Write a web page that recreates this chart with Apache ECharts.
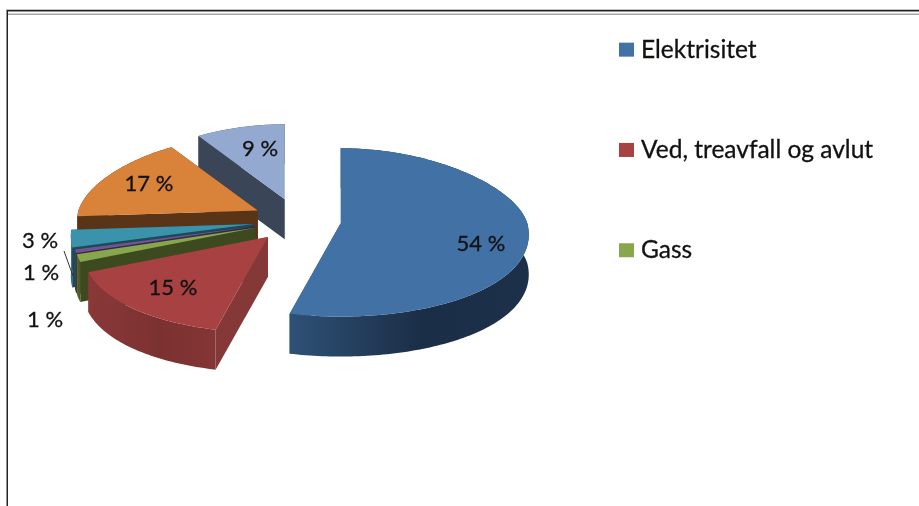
<!DOCTYPE html>
<html>
<head>
<meta charset="utf-8">
<style>html,body{margin:0;padding:0;background:#fff}#c{width:919px;height:506px}</style>
<script src="https://cdn.jsdelivr.net/npm/echarts@6/dist/echarts.min.js"></script>
</head>
<body>
<div id="c"></div>
<script>
// Data, clockwise from 12 o'clock. Only the first three names appear in the legend.
const sliceNames = ['Elektrisitet', 'Ved, treavfall og avlut', 'Gass', 'Slice 4', 'Slice 5', 'Slice 6', 'Slice 7'];
const sliceValues = [54, 15, 1.4, 0.6, 3, 17, 9];

// Styles
const topColors  = ['#4271a6', '#a84141', '#88a64c', '#6f5690', '#3a92ab', '#d8823a', '#93a9d0'];
const faceColors = ['#2b4a6e', '#853838', '#3d4a20', '#35294a', '#1c4a58', '#5a3417', '#3a4558'];
const rimStops   = [
  ['#2e5176', '#1b2e47', '#1c3049'], ['#8a3838', '#7c3131', '#843535'], ['#5c7030', '#4b5b27', '#4b5b27'],
  ['#4a3a60', '#4a3a60', '#4a3a60'], ['#2a7085', '#2a7085', '#2a7085'], ['#5a3417', '#5a3417', '#5a3417'],
  ['#3a4558', '#3a4558', '#3a4558']
];
// Label positions (text centres)
const labelXY = [[481, 244], [173, 288], [45, 320], [41, 273], [40, 241], [149, 184], [260, 149]];
// Radius adjustment per wedge
const radiusScale = [1, 1.025, 1, 1, 1.01, 1, 1];
// Order from back to front so nearer wedges cover farther ones
const paintOrder = [6, 5, 4, 3, 2, 1, 0];

// 3D projection settings
const CX = 297, CY = 220.5, R = 183, EXPLODE = 44, EXPLODE_Y = 0.5;
const RY_BACK = 0.41, RY_FRONT = 0.51, DEPTH = 40;
const total = sliceValues.reduce((a, b) => a + b, 0);

function wedge(i) {
  let before = 0;
  for (let k = 0; k < i; k++) before += sliceValues[k];
  const a0 = before / total * Math.PI * 2;
  const a1 = (before + sliceValues[i]) / total * Math.PI * 2;
  const m = (a0 + a1) / 2;
  const ax = CX + EXPLODE * Math.sin(m);
  const ay = CY - EXPLODE * EXPLODE_Y * Math.cos(m);
  return { a0, a1, ax, ay, r: R * radiusScale[i] };
}
function rimPoint(w, t) {
  const f = 1 - 0.13 * Math.cos(t) + 0.02 * Math.sin(t);
  const c = Math.cos(t);
  const ry = c > 0 ? RY_BACK : RY_FRONT;
  return [w.ax + w.r * f * Math.sin(t), w.ay - w.r * ry * c];
}
function arcPoints(w) {
  const n = Math.max(3, Math.ceil((w.a1 - w.a0) / 0.02));
  const pts = [];
  for (let k = 0; k <= n; k++) pts.push(rimPoint(w, w.a0 + (w.a1 - w.a0) * k / n));
  return pts;
}
const down = (p) => [p[0], p[1] + DEPTH];

function renderSlice(i) {
  return function () {
    const w = wedge(i);
    const arc = arcPoints(w);
    const apex = [w.ax, w.ay];
    const first = arc[0], last = arc[arc.length - 1];
    const xs = arc.map(p => p[0]);
    const minX = Math.min(...xs), maxX = Math.max(...xs);
    const stops = rimStops[i];
    const rimFill = {
      type: 'linear', global: true, x: minX, y: 0, x2: maxX, y2: 0,
      colorStops: [{ offset: 0, color: stops[0] }, { offset: 0.55, color: stops[1] }, { offset: 1, color: stops[2] }]
    };
    const children = [
      { type: 'polygon', shape: { points: [apex, first, down(first), down(apex)] }, style: { fill: faceColors[i] } },
      { type: 'polygon', shape: { points: [apex, last, down(last), down(apex)] }, style: { fill: faceColors[i] } },
      { type: 'polygon', shape: { points: arc.concat(arc.map(down).reverse()) }, style: { fill: rimFill } },
      { type: 'polygon', shape: { points: [apex].concat(arc) }, style: { fill: topColors[i] } },
      {
        type: 'text', z2: 100,
        style: {
          text: Math.round(sliceValues[i]) + ' %', x: labelXY[i][0], y: labelXY[i][1],
          align: 'center', verticalAlign: 'middle', fill: '#111',
          stroke: '#111', lineWidth: 0.3,
          font: '22px Lato, "Open Sans", sans-serif'
        }
      }
    ];
    return { type: 'group', children };
  };
}

const series = paintOrder.map(i => ({
  type: 'custom',
  name: sliceNames[i],
  coordinateSystem: 'none',
  silent: true,
  animation: false,
  itemStyle: { color: topColors[i] },
  data: [[sliceValues[i]]],
  renderItem: renderSlice(i)
}));

const chart = echarts.init(document.getElementById('c'), null, { renderer: 'canvas' });
chart.setOption({
  backgroundColor: '#fff',
  animation: false,
  legend: {
    data: sliceNames.slice(0, 3),
    orient: 'vertical',
    left: 619,
    top: 37,
    padding: 0,
    itemWidth: 15,
    itemHeight: 14,
    itemGap: 75,
    icon: 'rect',
    selectedMode: false,
    textStyle: {
      fontFamily: 'Lato, "Open Sans", sans-serif', fontSize: 24.5, color: '#111',
      textBorderColor: '#111', textBorderWidth: 0.3, padding: [0, 0, 0, 2]
    }
  },
  graphic: [
    { type: 'rect', silent: true, shape: { x: 6, y: 9, width: 913, height: 1 }, style: { fill: '#c4c4c4' } },
    { type: 'rect', silent: true, shape: { x: 7, y: 10, width: 912, height: 1.5 }, style: { fill: '#222' } },
    { type: 'rect', silent: true, shape: { x: 7, y: 13.5, width: 912, height: 1.5 }, style: { fill: '#a8a8a8' } },
    { type: 'rect', silent: true, shape: { x: 6.5, y: 10, width: 1.5, height: 496 }, style: { fill: '#222' } },
    { type: 'line', silent: true, z: 10, shape: { x1: 64, y1: 251, x2: 73, y2: 276 }, style: { stroke: '#333', lineWidth: 1 } }
  ],
  series
});
</script>
</body>
</html>
